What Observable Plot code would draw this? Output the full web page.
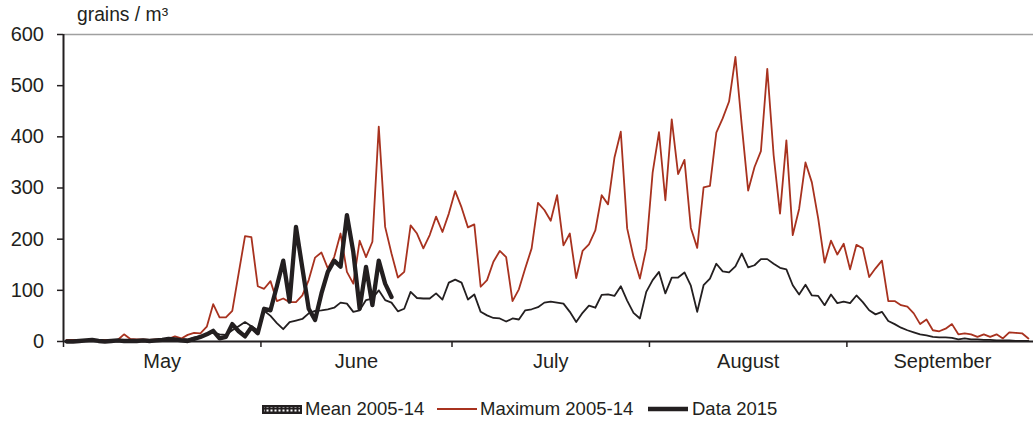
<!DOCTYPE html>
<html><head><meta charset="utf-8">
<script src="https://cdn.jsdelivr.net/npm/d3@7"></script>
<script src="https://cdn.jsdelivr.net/npm/@observablehq/plot@0.6"></script>
<style>
html,body{margin:0;padding:0;background:#fff;overflow:hidden}
#wrap{position:relative;width:1033px;height:421px;overflow:hidden;font-family:"Liberation Sans",Arial,sans-serif;color:#231f20}
#ylabel{position:absolute;left:77px;top:4px;font-size:19.3px;white-space:nowrap}
.leg{position:absolute;top:399px;font-size:18.5px;white-space:nowrap;line-height:20px}
.sw{position:absolute}
</style></head><body>
<div id="wrap"></div>
<script>
// ---- data (day 0 = 1 May) ----
const monthNames = ["May", "June", "July", "August", "September"];
const monthStarts = [0, 31, 61, 92, 123, 153];
const yTicks = [0, 100, 200, 300, 400, 500, 600];
const yLabel = "grains / m³";
const seriesNames = ["Mean 2005-14", "Maximum 2005-14", "Data 2015"];

const maxValues = [3,3,3,3,2,3,3,2,3,14,
5,4,4,3,4,4,5,10,6,13,
17,16,29,73,47,47,60,133,206,204,
108,103,118,79,84,77,77,90,120,164,
174,143,165,211,136,113,197,165,195,420,
224,172,125,136,227,211,182,208,244,214,
250,294,262,223,229,107,120,156,177,165,
79,102,143,182,271,257,236,286,188,211,
124,177,190,217,286,268,359,410,221,165,
123,182,330,409,276,434,327,355,222,183,
301,304,408,436,469,556,422,295,341,372,
533,364,250,393,208,259,350,311,240,154,
197,170,191,141,189,182,126,143,158,79,
79,71,68,55,34,43,22,20,25,34,
14,16,14,9,14,9,14,6,18,17,
16,6];

const meanValues = [1,1,1,2,3,2,1,1,2,2,
2,2,2,2,3,3,4,5,5,4,
8,10,14,18,14,13,22,30,38,30,
22,60,50,36,24,38,41,44,55,60,
61,63,66,76,74,58,61,81,84,100,
81,76,59,64,97,85,84,84,94,82,
115,121,115,82,92,58,51,46,45,39,
45,43,61,63,67,76,78,76,74,58,
38,56,70,66,91,92,89,108,80,56,
45,97,120,136,94,125,125,135,109,58,
110,123,152,137,135,147,172,145,149,161,
161,152,144,141,110,92,111,90,89,71,
92,75,78,75,90,77,61,53,58,40,
34,27,22,18,14,12,9,8,8,7,
4,6,4,4,3,3,2,2,2,1,
1,1];

const data2015 = [0,0,1,2,3,1,0,1,2,1,
1,1,2,1,2,3,5,4,2,1,
5,9,14,21,6,9,34,20,10,28,
16,64,61,108,158,78,224,144,64,42,
94,136,158,146,247,175,64,146,71,158,
113,87];

// ---- build ----
const toRows = arr => arr.map((v, i) => ({day: i + 0.5, value: v}));
const meanRows = toRows(meanValues);
const maxRows = toRows(maxValues);
const dataRows = toRows(data2015);
const monthMids = monthNames.map((m, i) => (monthStarts[i] + monthStarts[i + 1]) / 2);
const midName = new Map(monthMids.map((m, i) => [m, monthNames[i]]));

const INK = "#231f20";
const RED = "#a8321f";

const chart = Plot.plot({
  width: 1033, height: 385,
  marginLeft: 63, marginRight: 0, marginTop: 34, marginBottom: 44,
  style: {fontFamily: '"Liberation Sans", Arial, sans-serif', fontSize: "20px", color: INK, background: "transparent", overflow: "hidden"},
  x: {domain: [0, 152.3], axis: null},
  y: {domain: [0, 600], axis: null},
  marks: [
    Plot.ruleY([600], {stroke: "#a0a0a0", strokeWidth: 1.5}),
    Plot.line(meanRows, {x: "day", y: "value", stroke: INK, strokeWidth: 1.8}),
    Plot.line(maxRows, {x: "day", y: "value", stroke: RED, strokeWidth: 1.8}),
    Plot.line(dataRows, {x: "day", y: "value", stroke: INK, strokeWidth: 4.3}),
    Plot.ruleY([0], {stroke: INK, strokeWidth: 2}),
    Plot.ruleX([0], {y1: 0, y2: 600, stroke: INK, strokeWidth: 2}),
    Plot.axisY({ticks: yTicks, tickSize: 6, tickPadding: 13.5, tickFormat: d => String(d), label: null, anchor: "left", strokeWidth: 1.5}),
    Plot.axisX({ticks: monthStarts.slice(0, 5), tickSize: 6, tickFormat: () => "", label: null, anchor: "bottom", strokeWidth: 1.5}),
    Plot.axisX({ticks: monthMids, tickSize: 0, tickPadding: 12, tickFormat: d => midName.get(d), label: null, anchor: "bottom"})
  ]
});

const wrap = document.getElementById("wrap");
wrap.appendChild(chart);

const yl = document.createElement("div");
yl.id = "ylabel";
yl.textContent = yLabel;
wrap.appendChild(yl);

// legend
function addText(txt, left) {
  const d = document.createElement("div");
  d.className = "leg"; d.style.left = left + "px"; d.textContent = txt;
  wrap.appendChild(d);
}
function addSwatch(html, left, top, w, h) {
  const d = document.createElement("div");
  d.className = "sw"; d.style.left = left + "px"; d.style.top = top + "px";
  d.innerHTML = `<svg width="${w}" height="${h}" style="display:block">${html}</svg>`;
  wrap.appendChild(d);
}
addSwatch(`<defs><pattern id="chk" width="4" height="4" patternUnits="userSpaceOnUse"><rect width="4" height="4" fill="${INK}"/><rect x="0.5" y="0.5" width="2" height="2" fill="#fff"/></pattern></defs>
<rect x="1" y="1" width="38" height="7" fill="url(#chk)" stroke="${INK}" stroke-width="2"/>`, 262, 405, 40, 9);
addText(seriesNames[0], 305);
addSwatch(`<line x1="0" y1="3" x2="40" y2="3" stroke="${RED}" stroke-width="2"/>`, 437, 406, 40, 6);
addText(seriesNames[1], 480);
addSwatch(`<line x1="0" y1="3" x2="40" y2="3" stroke="${INK}" stroke-width="4.3"/>`, 648, 406, 40, 6);
addText(seriesNames[2], 692);
</script>
</body></html>
